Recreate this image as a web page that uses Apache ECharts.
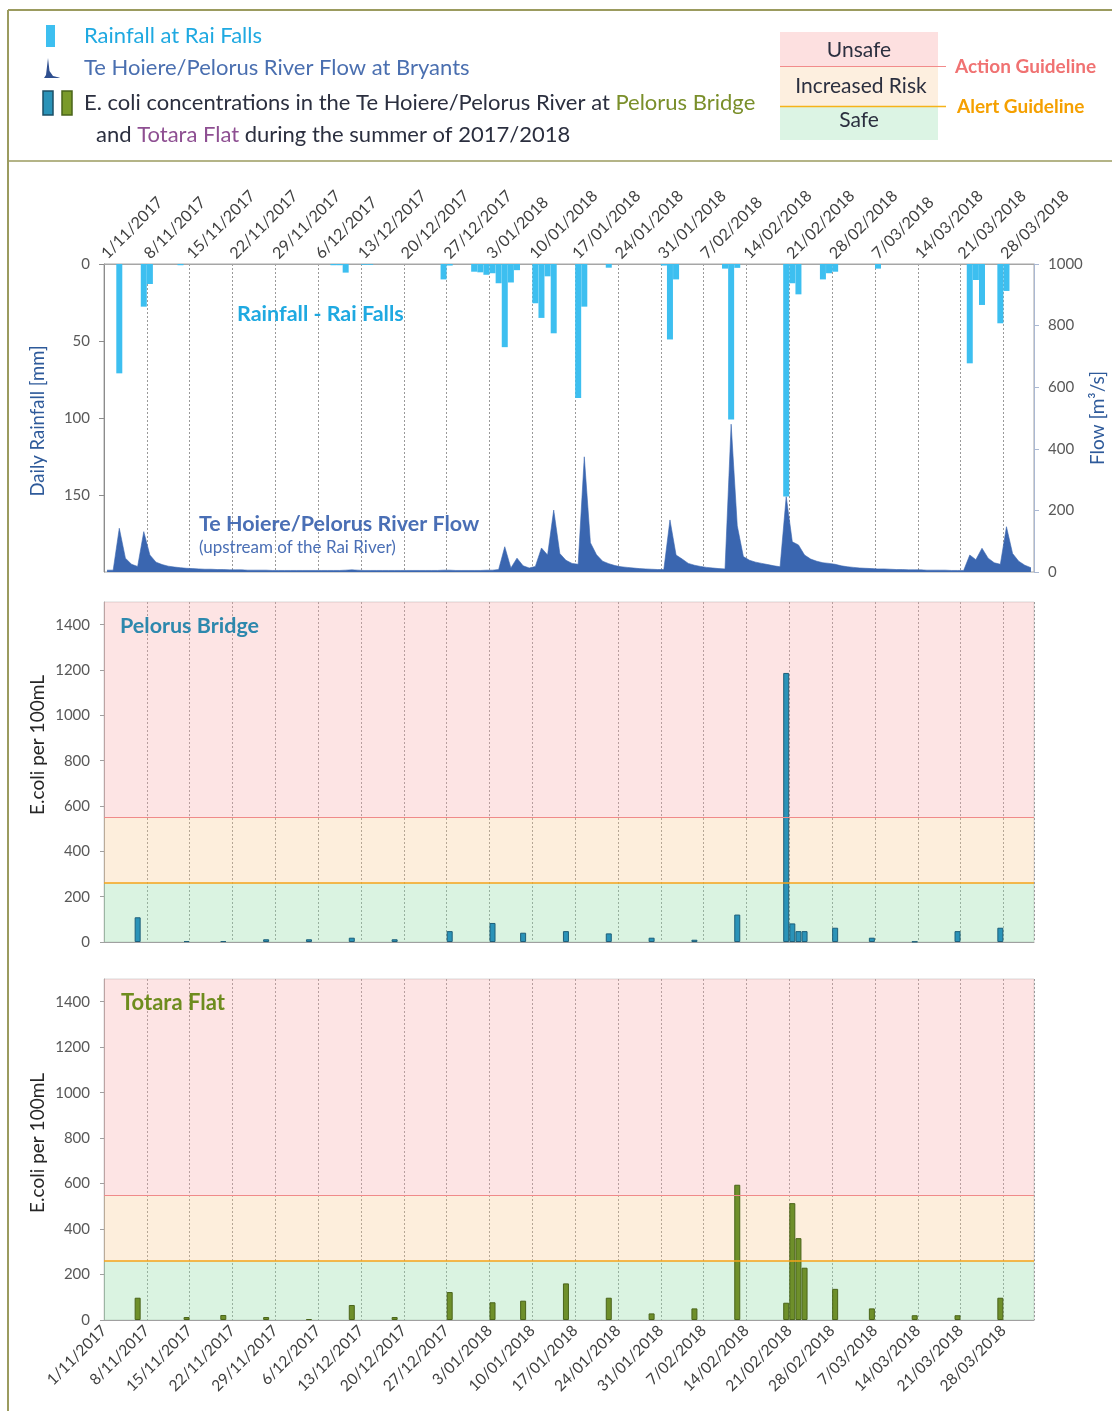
<!DOCTYPE html>
<html><head><meta charset="utf-8">
<script src="https://cdn.jsdelivr.net/npm/echarts@6/dist/echarts.min.js"></script>
<style>html,body{margin:0;padding:0;background:#fff}#c{width:1112px;height:1411px}</style>
</head><body><div id="c"></div>
<script>
// Tick labels (weekly, from 1 Nov 2017)
const dateLabels = ['1/11/2017','8/11/2017','15/11/2017','22/11/2017','29/11/2017','6/12/2017','13/12/2017','20/12/2017','27/12/2017','3/01/2018','10/01/2018','17/01/2018','24/01/2018','31/01/2018','7/02/2018','14/02/2018','21/02/2018','28/02/2018','7/03/2018','14/03/2018','21/03/2018','28/03/2018'];

// Daily rainfall at Rai Falls [mm], 1/11/2017 .. 31/03/2018
const rainfall = [
  0,0,71,0,0,0,27.7,
  13,0,0,0,0,0.8,0,
  0,0,0,0,0,0,0,
  0,0,0,0,0,0,0,
  0,0,0,0,0,0,0,
  0,0,0.8,0.8,5.6,0,0,
  0.5,0.5,0,0,0,0,0,
  0,0,0,0,0,0,10,
  1,0,0,0,5,5.4,7,
  6,12.5,54,12,4,0,0,
  25.5,35,8,45,0,0,0,
  87,27.7,0,0,0,2.4,0,
  0,0,0,0,0,0,0,
  1,49,10,0,0,0,0,
  0,0,0,3,101,2.5,0,
  0,0,0,0,0,0,151,
  12.5,19.7,0,0,0,10,6,
  5,0,0,0,0,0,0,
  3,0,0,0,0,0,0,
  0,0,0,0,0,0,0,
  0,64.5,10.4,26.6,0,0,38.5,
  17.5,0,0,0,0
];

// Daily flow at Bryants [m3/s]
const flow = [
  6,6,142,45,25,18,131,
  55,32,24,19,16,14,12,
  11,10,9,9,8,8,7,
  7,7,6,6,6,6,5,
  5,5,5,5,5,5,5,
  5,5,5,5,6,7,6,
  5,5,5,5,5,5,5,
  5,5,5,5,5,5,6,
  6,5,5,5,5,5,6,
  6,8,82,13,45,20,13,
  18,78,55,201,60,38,28,
  25,374,95,56,35,27,21,
  17,15,13,11,10,9,8,
  8,169,55,42,28,22,18,
  15,13,11,10,480,150,50,
  38,32,28,24,20,17,245,
  98,88,55,42,35,30,28,
  25,20,17,15,13,12,11,
  10,10,9,8,8,7,7,
  7,6,6,6,6,5,5,
  5,55,40,77,45,30,25,
  147,60,35,22,14
];

// E. coli sampling days (days after 1/11/2017) and concentrations [per 100 mL]
const sampleDays    = [5, 13, 19, 26, 33, 40, 47, 56, 63, 68, 75, 82, 89, 96, 103, 111, 112, 113, 114, 119, 125, 132, 139, 146];
const pelorusBridge = [109, 4, 4, 12, 12, 19, 12, 48, 84, 41, 48, 38, 19, 10, 121, 1187, 82, 48, 48, 63, 19, 2, 48, 63];
const totaraFlat    = [98, 13, 22, 13, 4, 66, 13, 123, 78, 85, 161, 98, 29, 51, 595, 76, 514, 360, 230, 137, 51, 21, 21, 98];

const alertGuideline = 260;
const actionGuideline = 550;

const FONT = 'Lato';
const chart = echarts.init(document.getElementById('c'), null, {renderer: 'canvas'});

function xLabel(v) { const i = v / 7; return (Number.isInteger(i) && i < dateLabels.length) ? dateLabels[i] : ''; }
function plain(v) { return String(v); }

const gridLine = {show: true, lineStyle: {color: '#999999', type: [2, 2], width: 1}};

function ecoliBands(xi, yi) {
  return {
    type: 'line', xAxisIndex: xi, yAxisIndex: yi, data: [[0, 0]], showSymbol: false, silent: true,
    lineStyle: {width: 0, opacity: 0}, z: 1,
    markArea: {silent: true, data: [
      [{yAxis: 0, itemStyle: {color: 'rgba(150,220,170,0.35)'}}, {yAxis: alertGuideline}],
      [{yAxis: alertGuideline, itemStyle: {color: 'rgba(250,200,140,0.30)'}}, {yAxis: actionGuideline}],
      [{yAxis: actionGuideline, itemStyle: {color: 'rgba(248,170,170,0.32)'}}, {yAxis: 1500}]
    ]},
    markLine: {silent: true, symbol: 'none', label: {show: false}, data: [
      {yAxis: alertGuideline, lineStyle: {color: '#f5a31a', width: 1.5, type: 'solid'}},
      {yAxis: actionGuideline, lineStyle: {color: '#f08a8a', width: 1, type: 'solid'}}
    ]}
  };
}

const tickLabel = {color: '#595959', fontSize: 15, fontFamily: FONT, margin: 14, formatter: plain};

const option = {
  animation: false,
  backgroundColor: '#ffffff',
  textStyle: {fontFamily: FONT},
  grid: [
    {left: 104, right: 78, top: 264, height: 308, show: true, borderColor: '#a6a6a6', borderWidth: 1},
    {left: 104, right: 78, top: 602, height: 340, show: true, borderColor: '#d8d8d8', borderWidth: 1},
    {left: 104, right: 78, top: 979, height: 341, show: true, borderColor: '#d8d8d8', borderWidth: 1}
  ],
  xAxis: [
    {gridIndex: 0, type: 'value', position: 'top', min: 0, max: 152, interval: 7,
     axisLine: {show: true, lineStyle: {color: '#a6a6a6'}}, axisTick: {show: false},
     axisLabel: {rotate: 45, formatter: xLabel, fontSize: 16, color: '#404040', fontFamily: FONT, margin: 8, showMaxLabel: false},
     splitLine: gridLine},
    {gridIndex: 1, type: 'value', min: 0, max: 152, interval: 7,
     axisLine: {show: true, lineStyle: {color: '#a0a0a0'}}, axisTick: {show: false}, axisLabel: {show: false},
     splitLine: gridLine},
    {gridIndex: 2, type: 'value', min: 0, max: 152, interval: 7,
     axisLine: {show: true, lineStyle: {color: '#a0a0a0'}}, axisTick: {show: false},
     axisLabel: {rotate: 45, formatter: xLabel, fontSize: 15.5, color: '#404040', fontFamily: FONT, margin: 8, showMaxLabel: false},
     splitLine: gridLine}
  ],
  yAxis: [
    {gridIndex: 0, type: 'value', inverse: true, min: 0, max: 200, interval: 50,
     axisLine: {show: true, lineStyle: {color: '#8c8c8c'}}, axisTick: {show: true, length: 5},
     axisLabel: Object.assign({showMaxLabel: false}, tickLabel),
     splitLine: {show: false}},
    {gridIndex: 0, type: 'value', position: 'right', min: 0, max: 1000, interval: 200,
     axisLine: {show: true, lineStyle: {color: '#aab8d2'}}, axisTick: {show: true, length: 5},
     axisLabel: tickLabel,
     splitLine: {show: false}},
    {gridIndex: 1, type: 'value', min: 0, max: 1500, interval: 200,
     axisLine: {show: true, lineStyle: {color: '#a0a0a0'}}, axisTick: {show: true, length: 4},
     axisLabel: Object.assign({showMaxLabel: false}, tickLabel),
     splitLine: {show: false}},
    {gridIndex: 2, type: 'value', min: 0, max: 1500, interval: 200,
     axisLine: {show: true, lineStyle: {color: '#a0a0a0'}}, axisTick: {show: true, length: 4},
     axisLabel: Object.assign({showMaxLabel: false}, tickLabel),
     splitLine: {show: false}}
  ],
  series: [
    {name: 'Flow', type: 'line', xAxisIndex: 0, yAxisIndex: 1, z: 2,
     data: flow.map((v, i) => [i + 0.5, v]), showSymbol: false, symbol: 'none',
     lineStyle: {color: '#3a66b0', width: 0.6}, areaStyle: {color: '#3a66b0', opacity: 1}},
    {name: 'Rainfall', type: 'bar', xAxisIndex: 0, yAxisIndex: 0, z: 3,
     data: rainfall.map((v, i) => [i + 0.5, v]), barWidth: 6,
     itemStyle: {color: '#3dbff0'}},
    ecoliBands(1, 2),
    ecoliBands(2, 3),
    {name: 'Pelorus Bridge', type: 'bar', xAxisIndex: 1, yAxisIndex: 2, z: 3,
     data: sampleDays.map((d, i) => [d + 0.5, pelorusBridge[i]]), barWidth: 6,
     itemStyle: {color: '#2a93b8', borderColor: '#1d5f7a', borderWidth: 1}},
    {name: 'Totara Flat', type: 'bar', xAxisIndex: 2, yAxisIndex: 3, z: 3,
     data: sampleDays.map((d, i) => [d + 0.5, totaraFlat[i]]), barWidth: 6,
     itemStyle: {color: '#6e8f2a', borderColor: '#4a641a', borderWidth: 1}}
  ],
  graphic: [
    // frame
    {type: 'line', shape: {x1: 8, y1: 10, x2: 1112, y2: 10}, style: {stroke: '#9b9b5f', lineWidth: 2}},
    {type: 'line', shape: {x1: 8, y1: 10, x2: 8, y2: 1411}, style: {stroke: '#9b9b5f', lineWidth: 2}},
    {type: 'line', shape: {x1: 8, y1: 161, x2: 1112, y2: 161}, style: {stroke: '#9b9b5f', lineWidth: 1.5}},
    // legend icons
    {type: 'rect', shape: {x: 46, y: 25, width: 9, height: 22}, style: {fill: '#3dbff0'}},
    {type: 'polygon', shape: {points: [[44, 78], [46, 75], [48, 58], [49.5, 71], [53, 76], [59, 77.5], [60, 78]]}, style: {fill: '#2f4f8f'}},
    {type: 'rect', shape: {x: 43, y: 91, width: 10, height: 24}, style: {fill: '#2a93b8', stroke: '#1b4f66', lineWidth: 1.5}},
    {type: 'rect', shape: {x: 62, y: 91, width: 10, height: 24}, style: {fill: '#7a9a2a', stroke: '#4a641a', lineWidth: 1.5}},
    // legend texts
    {type: 'text', x: 84, y: 36, style: {text: 'Rainfall at Rai Falls', fill: '#1fa9e1', fontSize: 22, fontFamily: FONT, verticalAlign: 'middle'}},
    {type: 'text', x: 84, y: 68, style: {text: 'Te Hoiere/Pelorus River Flow at Bryants', fill: '#4a6fb0', fontSize: 22, fontFamily: FONT, verticalAlign: 'middle'}},
    {type: 'text', x: 84, y: 103, style: {text: '{a|E. coli concentrations in the Te Hoiere/Pelorus River at }{b|Pelorus Bridge}',
      verticalAlign: 'middle', rich: {a: {fill: '#2b2f3f', fontSize: 22, fontFamily: FONT}, b: {fill: '#7a8f2a', fontSize: 22, fontFamily: FONT}}}},
    {type: 'text', x: 96, y: 135, style: {text: '{a|and }{c|Totara Flat}{a| during the summer of 2017/2018}',
      verticalAlign: 'middle', rich: {a: {fill: '#2b2f3f', fontSize: 22, fontFamily: FONT}, c: {fill: '#8e4f92', fontSize: 22, fontFamily: FONT}}}},
    // guideline legend box
    {type: 'rect', shape: {x: 780, y: 32, width: 158, height: 34}, style: {fill: '#fde0e0'}},
    {type: 'rect', shape: {x: 780, y: 67, width: 158, height: 39}, style: {fill: '#fdefdf'}},
    {type: 'rect', shape: {x: 780, y: 107, width: 158, height: 33}, style: {fill: '#dcf4e4'}},
    {type: 'line', shape: {x1: 780, y1: 66.5, x2: 946, y2: 66.5}, style: {stroke: '#f28b8b', lineWidth: 1}},
    {type: 'line', shape: {x1: 780, y1: 106.5, x2: 946, y2: 106.5}, style: {stroke: '#f5b31a', lineWidth: 1.5}},
    {type: 'text', x: 859, y: 50, style: {text: 'Unsafe', fill: '#2b2f3f', fontSize: 21, fontFamily: FONT, align: 'center', verticalAlign: 'middle'}},
    {type: 'text', x: 861, y: 86, style: {text: 'Increased Risk', fill: '#2b2f3f', fontSize: 21, fontFamily: FONT, align: 'center', verticalAlign: 'middle'}},
    {type: 'text', x: 859, y: 120, style: {text: 'Safe', fill: '#2b2f3f', fontSize: 21, fontFamily: FONT, align: 'center', verticalAlign: 'middle'}},
    {type: 'text', x: 955, y: 67, style: {text: 'Action Guideline', fill: '#f07272', fontSize: 19, fontWeight: 'bold', fontFamily: FONT, verticalAlign: 'middle'}},
    {type: 'text', x: 957, y: 107, style: {text: 'Alert Guideline', fill: '#f5a000', fontSize: 19, fontWeight: 'bold', fontFamily: FONT, verticalAlign: 'middle'}},
    // axis names
    {type: 'text', x: 38, y: 421, rotation: Math.PI / 2, style: {text: 'Daily Rainfall [mm]', fill: '#2e5a9a', fontSize: 18.5, fontFamily: FONT, align: 'center', verticalAlign: 'middle'}},
    {type: 'text', x: 1098, y: 418, rotation: Math.PI / 2, style: {text: 'Flow [m³/s]', fill: '#2e5a9a', fontSize: 19, fontFamily: FONT, align: 'center', verticalAlign: 'middle'}},
    {type: 'text', x: 38, y: 745, rotation: Math.PI / 2, style: {text: 'E.coli per 100mL', fill: '#262626', fontSize: 19, fontFamily: FONT, align: 'center', verticalAlign: 'middle'}},
    {type: 'text', x: 38, y: 1143, rotation: Math.PI / 2, style: {text: 'E.coli per 100mL', fill: '#262626', fontSize: 19, fontFamily: FONT, align: 'center', verticalAlign: 'middle'}},
    // in-plot annotations
    {type: 'text', x: 237, y: 314, z: 10, style: {text: 'Rainfall - Rai Falls', fill: '#1fa9e1', fontSize: 21.5, fontWeight: 'bold', fontFamily: FONT, verticalAlign: 'middle'}},
    {type: 'text', x: 199, y: 524, z: 10, style: {text: 'Te Hoiere/Pelorus River Flow', fill: '#4a6fb5', fontSize: 21.5, fontWeight: 'bold', fontFamily: FONT, verticalAlign: 'middle'}},
    {type: 'text', x: 199, y: 548, z: 10, style: {text: '(upstream of the Rai River)', fill: '#4a6fb5', fontSize: 17, fontFamily: FONT, verticalAlign: 'middle'}},
    {type: 'text', x: 120, y: 626, z: 10, style: {text: 'Pelorus Bridge', fill: '#2d88ad', fontSize: 21.5, fontWeight: 'bold', fontFamily: FONT, verticalAlign: 'middle'}},
    {type: 'text', x: 121, y: 1003, z: 10, style: {text: 'Totara Flat', fill: '#6e8c1e', fontSize: 22, fontWeight: 'bold', fontFamily: FONT, verticalAlign: 'middle'}}
  ]
};
chart.setOption(option);
</script></body></html>
